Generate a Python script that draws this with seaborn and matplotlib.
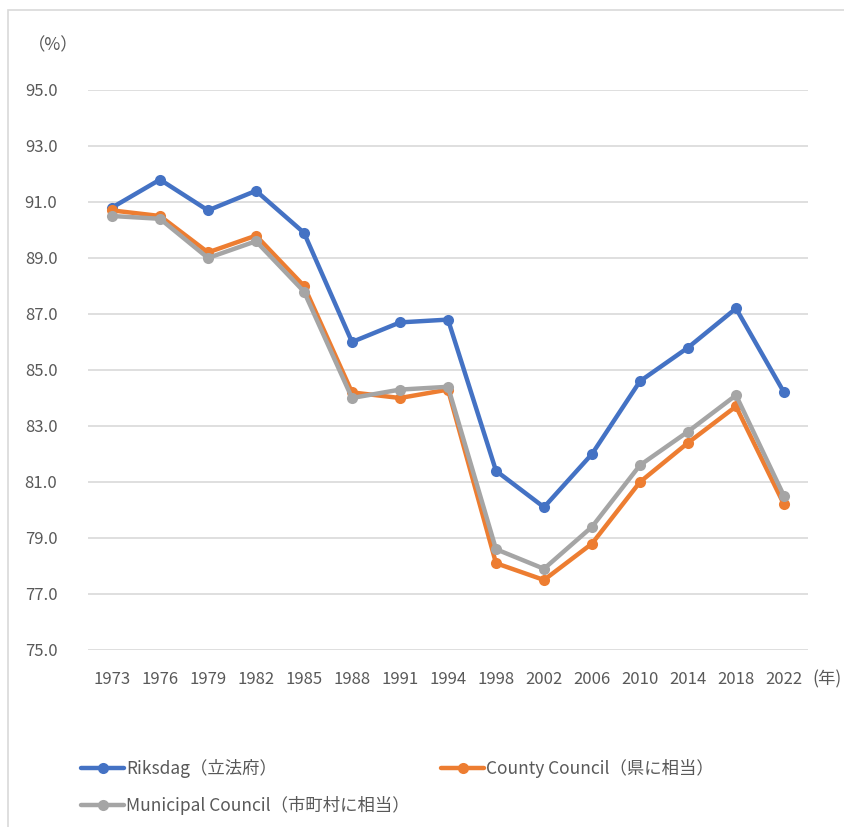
import numpy as np
import pandas as pd
import matplotlib
matplotlib.use("Agg")
import matplotlib.pyplot as plt
import seaborn as sns
from matplotlib.lines import Line2D
from matplotlib.patches import Rectangle

years = ["1973", "1976", "1979", "1982", "1985", "1988", "1991", "1994",
         "1998", "2002", "2006", "2010", "2014", "2018", "2022"]
riksdag = [90.8, 91.8, 90.7, 91.4, 89.9, 86.0, 86.7, 86.8,
           81.4, 80.1, 82.0, 84.6, 85.8, 87.2, 84.2]
county = [90.7, 90.5, 89.2, 89.8, 88.0, 84.2, 84.0, 84.3,
          78.1, 77.5, 78.8, 81.0, 82.4, 83.7, 80.2]
municipal = [90.5, 90.4, 89.0, 89.6, 87.8, 84.0, 84.3, 84.4,
             78.6, 77.9, 79.4, 81.6, 82.8, 84.1, 80.5]
series_names = ["Riksdag（立法府）", "County Council（県に相当）", "Municipal Council（市町村に相当）"]
colors = ["#4472C4", "#ED7D31", "#A5A5A5"]
y_ticks = [75.0, 77.0, 79.0, 81.0, 83.0, 85.0, 87.0, 89.0, 91.0, 93.0, 95.0]

sns.set_style("white")
plt.rcParams['font.family'] = ['Noto Sans CJK JP', 'DejaVu Sans']
text_col = "#595959"

df = pd.DataFrame({
    "year": years * 3,
    "value": riksdag + county + municipal,
    "series": [series_names[0]] * len(years) + [series_names[1]] * len(years) + [series_names[2]] * len(years),
})

fig = plt.figure(figsize=(8.45, 8.27), dpi=100)
ax = fig.add_axes([88 / 845, 1 - 650 / 827, 720 / 845, 560 / 827])

sns.lineplot(data=df, x="year", y="value", hue="series", hue_order=series_names,
             palette=colors, marker="o", markersize=8, markeredgewidth=0,
             linewidth=3.2, ax=ax, legend=False, sort=False)

ax.set_xlim(-0.5, len(years) - 0.5)
ax.set_ylim(75.0, 95.0)
ax.set_yticks(y_ticks)
ax.set_yticklabels([f"{v:.1f}" for v in y_ticks])
ax.yaxis.grid(True, color="#D9D9D9", linewidth=1.2)
ax.xaxis.grid(False)
ax.set_axisbelow(True)
for s in ax.spines.values():
    s.set_visible(False)
ax.tick_params(axis="both", length=0, labelsize=12, colors=text_col)
ax.tick_params(axis="y", pad=22)
ax.tick_params(axis="x", pad=15)
ax.set_xlabel("")
ax.set_ylabel("")

fig.text(28 / 845, 1 - 45 / 827, "（%）", fontsize=12.5, color=text_col, va="center", ha="left")
fig.text(812 / 845, 1 - 679 / 827, "(年)", fontsize=12.5, color=text_col, va="center", ha="left")

# chart frame (partially visible)
fig.add_artist(Rectangle((8 / 845, -0.05), 1.0, 1 - 10 / 827 + 0.05, transform=fig.transFigure,
                         fill=False, edgecolor="#D9D9D9", linewidth=1.2))

handles = [Line2D([0], [0], color=c, lw=3.2, marker="o", markersize=8, markeredgewidth=0) for c in colors]
order = [0, 2, 1]
fig.legend([handles[i] for i in order], [series_names[i] for i in order],
           loc="upper left", bbox_to_anchor=(74 / 845, 1 - 752 / 827), ncol=2,
           frameon=False, fontsize=12.5, labelcolor=text_col, handlelength=2.5,
           handletextpad=0.1, columnspacing=1.8, labelspacing=1.05, borderaxespad=0)

fig.savefig("out.png", dpi=100)
